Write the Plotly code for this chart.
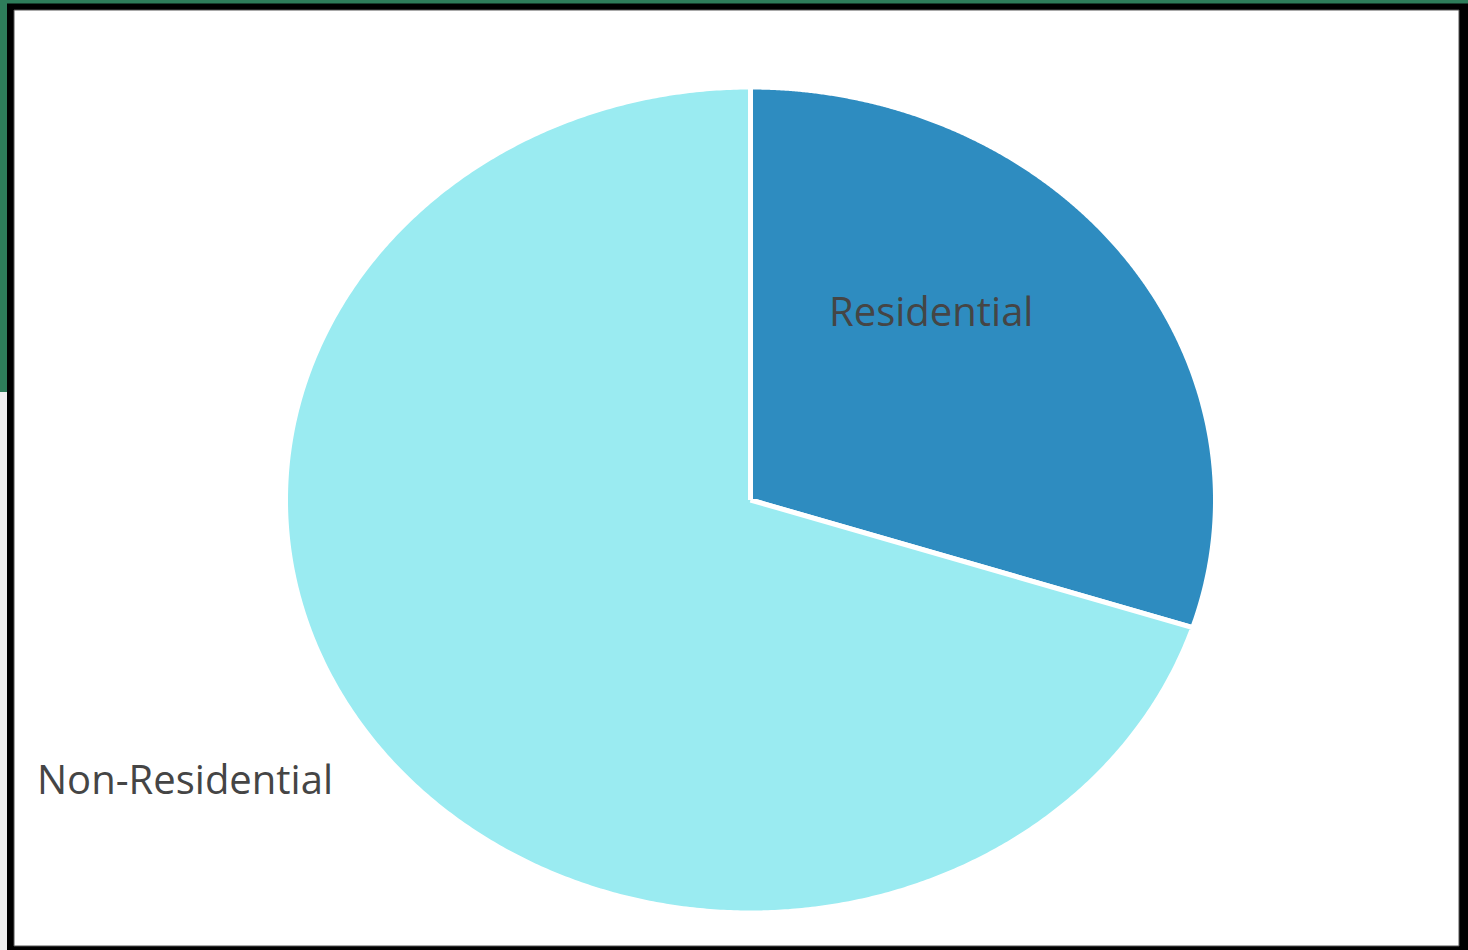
import numpy as np
import plotly.graph_objects as go

# ---- data ----
categories = ["Residential", "Non-Residential"]
shares = [30, 70]
colors = ["#2E8CC0", "#9AEBF1"]

# ---- layout constants (pixel-like coordinates) ----
W, H = 1468, 950
CX, CY = 750.5, 500
RX, RY = 465, 413

fig = go.Figure()

total = sum(shares)
start = 0.0
for cat, val, col in zip(categories, shares, colors):
    span = 360.0 * val / total
    th = np.radians(np.linspace(start, start + span, 600))
    xs = np.concatenate([[CX], CX + RX * np.sin(th), [CX]])
    ys = np.concatenate([[CY], CY - RY * np.cos(th), [CY]])
    fig.add_trace(go.Scatter(
        x=xs, y=ys, mode="lines", fill="toself", fillcolor=col,
        line=dict(color="white", width=5, simplify=False), name=cat, hoverinfo="name",
        showlegend=False,
    ))
    start += span

# frame shapes
shapes = [
    dict(type="rect", x0=0, x1=W, y0=0, y1=H, fillcolor="black", line_width=0, layer="below"),
    dict(type="rect", x0=0, x1=W, y0=0, y1=3.5, fillcolor="#2E7D5A", line_width=0, layer="below"),
    dict(type="rect", x0=0, x1=7, y0=0, y1=392, fillcolor="#2E7D5A", line_width=0, layer="below"),
    dict(type="rect", x0=0, x1=7, y0=392, y1=H, fillcolor="#F0F0F0", line_width=0, layer="below"),
    dict(type="rect", x0=14, x1=1459, y0=10, y1=946, fillcolor="white",
         line=dict(color="#555555", width=1), layer="below"),
]

fig.update_layout(
    width=W, height=H,
    margin=dict(l=0, r=0, t=0, b=0),
    paper_bgcolor="white", plot_bgcolor="white",
    xaxis=dict(range=[0, W], visible=False, fixedrange=True),
    yaxis=dict(range=[H, 0], visible=False, fixedrange=True),
    shapes=shapes,
    annotations=[
        dict(x=931, y=310, xref="x", yref="y", text=categories[0], showarrow=False,
             font=dict(family="Open Sans", size=40, color="#454545")),
        dict(x=185, y=778, xref="x", yref="y", text=categories[1], showarrow=False,
             font=dict(family="Open Sans", size=40, color="#454545")),
    ],
)

fig.write_html(
    "out.html",
    config={"displayModeBar": False},
    post_script="document.body.style.margin='0px';document.body.style.overflow='hidden';",
)
